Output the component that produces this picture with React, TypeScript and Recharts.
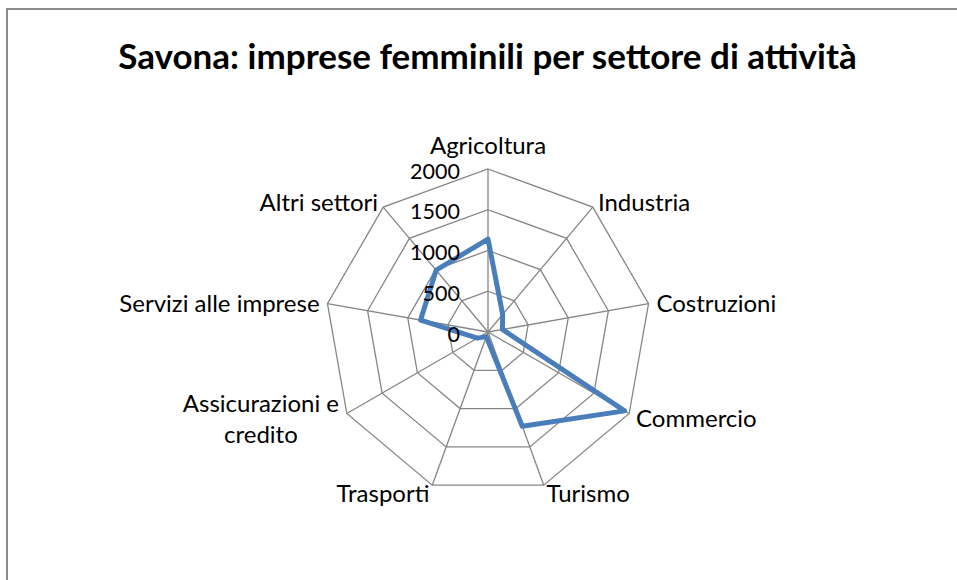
import React from 'react';
import { RadarChart, Radar, PolarGrid, PolarAngleAxis, PolarRadiusAxis } from 'recharts';

const categories = [
  'Agricoltura',
  'Industria',
  'Costruzioni',
  'Commercio',
  'Turismo',
  'Trasporti',
  'Assicurazioni e credito',
  'Servizi alle imprese',
  'Altri settori',
];
const imprese = [1140, 280, 180, 1935, 1230, 60, 150, 840, 990];
const radiusTicks = [0, 500, 1000, 1500, 2000];
const title = 'Savona: imprese femminili per settore di attività';

const data = categories.map((c, i) => ({ settore: c, imprese: imprese[i] }));

const FONT = 'Lato, "Open Sans", sans-serif';
const LABEL_SIZE = 24;

const AngleTick = (props: any) => {
  const { x, y, textAnchor, payload } = props;
  const label: string = payload.value;
  let lines: string[] = [label];
  if (label.length > 20) {
    const words = label.split(' ');
    lines = [words.slice(0, -1).join(' '), words[words.length - 1]];
  }
  if (textAnchor === 'middle') {
    return (
      <text x={x} y={y - 17} textAnchor="middle" dominantBaseline="central" fontSize={LABEL_SIZE} fontFamily={FONT} fill="#000">
        {label}
      </text>
    );
  }
  if (lines.length > 1) {
    const lh = 31;
    const cxText = textAnchor === 'end' ? x - 79 : x + 79;
    return (
      <text textAnchor="middle" fontSize={LABEL_SIZE} fontFamily={FONT} fill="#000" dominantBaseline="central">
        {lines.map((l, i) => (
          <tspan key={i} x={cxText} y={y + (i - (lines.length - 1) / 2) * lh}>
            {l}
          </tspan>
        ))}
      </text>
    );
  }
  return (
    <text x={x} y={y} textAnchor={textAnchor} dominantBaseline="central" fontSize={LABEL_SIZE} fontFamily={FONT} fill="#000">
      {label}
    </text>
  );
};

const RadiusTick = (props: any) => {
  const { x, y, payload } = props;
  return (
    <text x={x - 28} y={y + 1.5} textAnchor="end" dominantBaseline="central" fontSize={21.5} fontFamily={FONT} fill="#000">
      {payload.value}
    </text>
  );
};

export default function App() {
  return (
    <div style={{ position: 'absolute', left: 0, top: 0, width: 957, height: 580, background: '#fff', overflow: 'hidden' }}>
      <div
        style={{
          position: 'absolute',
          left: 6,
          top: 8,
          width: 980,
          height: 600,
          borderTop: '2px solid #8c8c8c',
          borderLeft: '2px solid #8c8c8c',
          boxSizing: 'border-box',
        }}
      />
      <div
        style={{
          position: 'absolute',
          left: 0,
          top: 34,
          width: 975,
          textAlign: 'center',
          fontFamily: FONT,
          fontWeight: 'bold',
          fontSize: 35,
          lineHeight: '42px',
          color: '#000',
        }}
      >
        {title}
      </div>
      <div style={{ position: 'absolute', left: 0, top: 0 }}>
        <RadarChart
          width={957}
          height={580}
          data={data}
          cx={488}
          cy={332}
          outerRadius={163}
          margin={{ top: 0, right: 0, bottom: 0, left: 0 }}
        >
          <PolarGrid gridType="polygon" stroke="#868686" strokeWidth={1.3} strokeOpacity={1} />
          <PolarAngleAxis dataKey="settore" tick={<AngleTick />} tickLine={false} axisLine={false} />
          <PolarRadiusAxis
            angle={90}
            domain={[0, 2000]}
            ticks={radiusTicks}
            tickCount={5}
            axisLine={false}
            tickLine={false}
            tick={<RadiusTick />}
          />
          <Radar
            dataKey="imprese"
            stroke="#4a7ebb"
            strokeWidth={5}
            strokeLinejoin="round"
            fill="none"
            fillOpacity={0}
            dot={false}
            isAnimationActive={false}
          />
        </RadarChart>
      </div>
    </div>
  );
}
